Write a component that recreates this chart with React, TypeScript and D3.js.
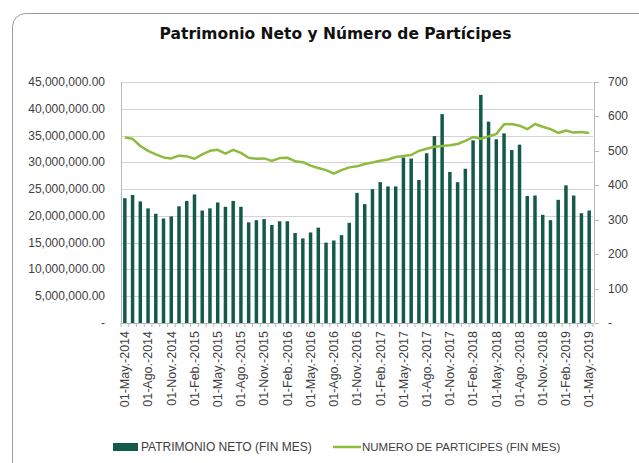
import React from "react";
import * as d3 from "d3";

const patrimonioM: number[] = [
  23.3, 23.9, 22.7, 21.4, 20.4, 19.5, 19.9, 21.8, 22.8, 24.0,
  21.0, 21.4, 22.5, 21.7, 22.8, 21.7, 18.8, 19.2, 19.4, 18.3,
  19.0, 19.0, 16.8, 15.8, 16.9, 17.8, 15.0, 15.4, 16.4, 18.7,
  24.3, 22.2, 25.0, 26.3, 25.5, 25.5, 30.9, 30.7, 26.7, 31.7,
  34.9, 39.0, 28.2, 26.3, 28.8, 34.1, 42.6, 37.6, 34.3, 35.4,
  32.3, 33.3, 23.7, 23.8, 20.2, 19.2, 23.0, 25.7, 23.8, 20.5, 21.0,
];

const participes: number[] = [
  539, 535, 514, 500, 490, 481, 478, 486, 484, 477,
  490, 500, 503, 492, 503, 494, 480, 477, 478, 471,
  479, 480, 470, 467, 457, 450, 444, 434, 444, 452,
  455, 462, 466, 471, 475, 482, 485, 488, 500, 506,
  512, 514, 516, 520, 529, 540, 535, 542, 549, 577,
  578, 573, 563, 578, 570, 563, 552, 559, 553, 555, 552,
];

const tickLabels: string[] = [
  "01-May.-2014", "01-Ago.-2014", "01-Nov.-2014", "01-Feb.-2015",
  "01-May.-2015", "01-Ago.-2015", "01-Nov.-2015", "01-Feb.-2016",
  "01-May.-2016", "01-Ago.-2016", "01-Nov.-2016", "01-Feb.-2017",
  "01-May.-2017", "01-Ago.-2017", "01-Nov.-2017", "01-Feb.-2018",
  "01-May.-2018", "01-Ago.-2018", "01-Nov.-2018", "01-Feb.-2019",
  "01-May.-2019",
];
const tickEvery = 3;

const leftTicks: number[] = [0, 5e6, 10e6, 15e6, 20e6, 25e6, 30e6, 35e6, 40e6, 45e6];
const rightTicks: number[] = [0, 100, 200, 300, 400, 500, 600, 700];

const title = "Patrimonio Neto y Número de Partícipes";
const legendBar = "PATRIMONIO NETO (FIN MES)";
const legendLine = "NUMERO DE PARTICIPES (FIN MES)";

const W = 639, H = 463;
const plot = { left: 121, right: 593, top: 82, bottom: 323 };
const barColor = "#135a4b";
const lineColor = "#8cbb3e";
const gridColor = "#d4d4d4";
const axisColor = "#b8b8b8";
const textColor = "#404040";
const font = "'Liberation Sans', Arial, sans-serif";

export default function App() {
  const idx = patrimonioM.map((_, i) => i);
  const x = d3.scaleBand<number>().domain(idx).range([plot.left, plot.right]).paddingInner(0.55).paddingOuter(0.27);
  const xc = (i: number) => (x(i) as number) + x.bandwidth() / 2;
  const yL = d3.scaleLinear().domain([0, 45e6]).range([plot.bottom, plot.top]);
  const yR = d3.scaleLinear().domain([0, 700]).range([plot.bottom, plot.top]);
  const fmtL = (v: number) => (v === 0 ? "-" : d3.format(",.2f")(v));
  const fmtR = (v: number) => (v === 0 ? "-" : String(v));
  const line = d3.line<number>().x((_, i) => xc(i)).y((d) => yR(d));
  const catStep = (plot.right - plot.left) / idx.length;

  return (
    <svg width={W} height={H} style={{ position: "absolute", left: 0, top: 0, background: "#fff" }}>
      <rect x={12.5} y={13.5} width={700} height={520} rx={13} fill="#fff" stroke="#9a9a9a" strokeWidth={1} />
      <text x={335.5} y={39} textAnchor="middle" fontFamily="'DejaVu Sans', Verdana, sans-serif" fontWeight="bold" fontSize={15.5} fill="#111">{title}</text>

      {leftTicks.filter((t) => t > 0).map((t) => (
        <line key={"g" + t} x1={plot.left} x2={plot.right} y1={Math.round(yL(t)) + 0.5} y2={Math.round(yL(t)) + 0.5} stroke={gridColor} strokeWidth={1} />
      ))}
      <line x1={plot.left + 0.5} x2={plot.left + 0.5} y1={plot.top} y2={plot.bottom} stroke={axisColor} />
      {leftTicks.map((t) => (
        <text key={"l" + t} x={105} y={yL(t) + 4} textAnchor="end" fontFamily={font} fontSize={12} fill={textColor}>{fmtL(t)}</text>
      ))}

      <line x1={594.5} x2={594.5} y1={plot.top} y2={plot.bottom} stroke={axisColor} />
      {rightTicks.map((t) => (
        <g key={"r" + t}>
          <line x1={594.5} x2={599} y1={Math.round(yR(t)) + 0.5} y2={Math.round(yR(t)) + 0.5} stroke={axisColor} />
          <text x={608} y={yR(t) + 4} textAnchor="start" fontFamily={font} fontSize={12} fill={textColor}>{fmtR(t)}</text>
        </g>
      ))}

      {patrimonioM.map((v, i) => (
        <rect key={"b" + i} x={x(i)} y={yL(v * 1e6)} width={x.bandwidth()} height={plot.bottom - yL(v * 1e6)} fill={barColor} />
      ))}

      <line x1={plot.left} x2={plot.right} y1={plot.bottom + 0.5} y2={plot.bottom + 0.5} stroke={axisColor} />
      {d3.range(idx.length + 1).map((k) => (
        <line key={"xt" + k} x1={plot.left + k * catStep} x2={plot.left + k * catStep} y1={plot.bottom} y2={plot.bottom + 4} stroke={axisColor} />
      ))}

      <path d={line(participes) || ""} fill="none" stroke={lineColor} strokeWidth={2.5} strokeLinejoin="round" />

      {tickLabels.map((lab, k) => {
        const cx = xc(k * tickEvery);
        return (
          <text key={"xl" + k} transform={`translate(${cx + 4.3},${plot.bottom + 8}) rotate(-90)`} textAnchor="end" fontFamily={font} fontSize={12.5} fill={textColor}>{lab}</text>
        );
      })}

      <rect x={113} y={443} width={25} height={8} fill={barColor} />
      <text x={141} y={451} fontFamily={font} fontSize={12} fill={textColor}>{legendBar}</text>
      <line x1={333} x2={361} y1={447} y2={447} stroke={lineColor} strokeWidth={2.5} />
      <text x={362} y={451} fontFamily={font} fontSize={11.5} fill={textColor}>{legendLine}</text>
    </svg>
  );
}
